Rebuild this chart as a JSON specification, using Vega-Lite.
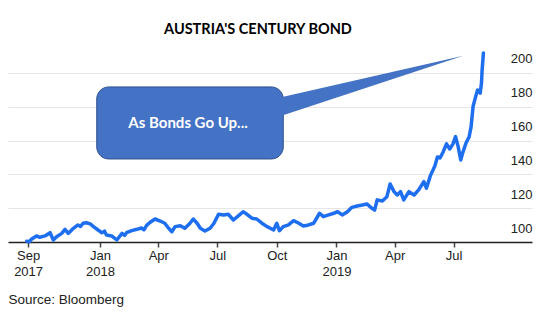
{
  "$schema": "https://vega.github.io/schema/vega-lite/v6.json",
  "width": 524,
  "height": 197,
  "autosize": {"type": "none"},
  "padding": {"left": 8, "top": 45, "right": 18, "bottom": 73},
  "background": "white",
  "title": {"text": "AUSTRIA'S CENTURY BOND", "font": "Lato", "fontSize": 14.5, "fontWeight": "bold", "color": "#000000", "anchor": "middle", "dx": -12, "offset": -3, "baseline": "alphabetic"},
  "config": {"view": {"stroke": null}},
  "datasets": {
    "price": [
      {"date": "2017-09-10", "value": 100.5},
      {"date": "2017-09-14", "value": 100.2},
      {"date": "2017-09-17", "value": 101.6},
      {"date": "2017-09-25", "value": 103.6},
      {"date": "2017-09-30", "value": 102.8},
      {"date": "2017-10-08", "value": 103.6},
      {"date": "2017-10-16", "value": 105.5},
      {"date": "2017-10-21", "value": 101.2},
      {"date": "2017-10-26", "value": 103.1},
      {"date": "2017-11-03", "value": 105.1},
      {"date": "2017-11-08", "value": 107.5},
      {"date": "2017-11-13", "value": 105.1},
      {"date": "2017-11-21", "value": 108.1},
      {"date": "2017-11-28", "value": 110.1},
      {"date": "2017-12-02", "value": 109.2},
      {"date": "2017-12-06", "value": 111.1},
      {"date": "2017-12-11", "value": 111.4},
      {"date": "2017-12-17", "value": 110.7},
      {"date": "2017-12-22", "value": 109.1},
      {"date": "2017-12-29", "value": 107.1},
      {"date": "2018-01-04", "value": 105.5},
      {"date": "2018-01-08", "value": 106.4},
      {"date": "2018-01-11", "value": 104.1},
      {"date": "2018-01-19", "value": 103.6},
      {"date": "2018-01-27", "value": 101.2},
      {"date": "2018-02-04", "value": 105.1},
      {"date": "2018-02-08", "value": 103.9},
      {"date": "2018-02-11", "value": 105.5},
      {"date": "2018-02-19", "value": 106.7},
      {"date": "2018-02-27", "value": 107.5},
      {"date": "2018-03-06", "value": 108.3},
      {"date": "2018-03-10", "value": 107.2},
      {"date": "2018-03-14", "value": 109.8},
      {"date": "2018-03-19", "value": 111.5},
      {"date": "2018-03-27", "value": 113.6},
      {"date": "2018-04-04", "value": 112.4},
      {"date": "2018-04-11", "value": 111.1},
      {"date": "2018-04-17", "value": 108.1},
      {"date": "2018-04-22", "value": 106.1},
      {"date": "2018-04-27", "value": 109.1},
      {"date": "2018-05-05", "value": 109.6},
      {"date": "2018-05-12", "value": 108.1},
      {"date": "2018-05-20", "value": 111.1},
      {"date": "2018-05-25", "value": 113.6},
      {"date": "2018-05-31", "value": 111.1},
      {"date": "2018-06-05", "value": 108.1},
      {"date": "2018-06-12", "value": 106.5},
      {"date": "2018-06-20", "value": 108.1},
      {"date": "2018-06-26", "value": 111.1},
      {"date": "2018-07-03", "value": 116.4},
      {"date": "2018-07-11", "value": 116.0},
      {"date": "2018-07-18", "value": 116.4},
      {"date": "2018-07-26", "value": 113.0},
      {"date": "2018-08-03", "value": 115.6},
      {"date": "2018-08-10", "value": 117.9},
      {"date": "2018-08-16", "value": 116.4},
      {"date": "2018-08-24", "value": 114.0},
      {"date": "2018-08-31", "value": 113.6},
      {"date": "2018-09-08", "value": 111.1},
      {"date": "2018-09-16", "value": 109.1},
      {"date": "2018-09-21", "value": 108.1},
      {"date": "2018-09-26", "value": 107.1},
      {"date": "2018-10-01", "value": 111.1},
      {"date": "2018-10-05", "value": 106.7},
      {"date": "2018-10-11", "value": 109.1},
      {"date": "2018-10-19", "value": 110.1},
      {"date": "2018-10-27", "value": 112.6},
      {"date": "2018-11-04", "value": 111.1},
      {"date": "2018-11-11", "value": 109.5},
      {"date": "2018-11-19", "value": 110.1},
      {"date": "2018-11-27", "value": 111.1},
      {"date": "2018-12-06", "value": 117.0},
      {"date": "2018-12-12", "value": 115.0},
      {"date": "2018-12-20", "value": 116.0},
      {"date": "2018-12-28", "value": 117.0},
      {"date": "2019-01-03", "value": 117.9},
      {"date": "2019-01-10", "value": 116.0},
      {"date": "2019-01-18", "value": 117.9},
      {"date": "2019-01-25", "value": 120.5},
      {"date": "2019-02-02", "value": 121.3},
      {"date": "2019-02-10", "value": 121.9},
      {"date": "2019-02-17", "value": 122.5},
      {"date": "2019-02-25", "value": 119.9},
      {"date": "2019-03-01", "value": 118.9},
      {"date": "2019-03-05", "value": 124.9},
      {"date": "2019-03-13", "value": 124.3},
      {"date": "2019-03-20", "value": 126.8},
      {"date": "2019-03-25", "value": 134.3},
      {"date": "2019-03-31", "value": 129.8},
      {"date": "2019-04-05", "value": 127.8},
      {"date": "2019-04-10", "value": 129.8},
      {"date": "2019-04-15", "value": 124.9},
      {"date": "2019-04-23", "value": 129.8},
      {"date": "2019-05-01", "value": 127.8},
      {"date": "2019-05-08", "value": 130.8},
      {"date": "2019-05-16", "value": 135.7},
      {"date": "2019-05-20", "value": 131.8},
      {"date": "2019-05-26", "value": 139.1},
      {"date": "2019-06-02", "value": 145.0},
      {"date": "2019-06-06", "value": 150.3},
      {"date": "2019-06-10", "value": 149.7},
      {"date": "2019-06-15", "value": 153.4},
      {"date": "2019-06-20", "value": 158.0},
      {"date": "2019-06-25", "value": 155.0},
      {"date": "2019-06-30", "value": 158.0},
      {"date": "2019-07-04", "value": 162.3},
      {"date": "2019-07-08", "value": 156.4},
      {"date": "2019-07-12", "value": 148.5},
      {"date": "2019-07-15", "value": 152.7},
      {"date": "2019-07-20", "value": 158.4},
      {"date": "2019-07-25", "value": 162.3},
      {"date": "2019-07-28", "value": 168.2},
      {"date": "2019-07-31", "value": 180.1},
      {"date": "2019-08-04", "value": 186.0},
      {"date": "2019-08-07", "value": 189.9},
      {"date": "2019-08-11", "value": 188.0},
      {"date": "2019-08-13", "value": 193.9},
      {"date": "2019-08-14", "value": 201.8},
      {"date": "2019-08-16", "value": 211.8}
    ],
    "box": [
      {"date": "2017-12-27", "date2": "2018-10-11", "value": 191.7, "value2": 149.1}
    ],
    "pointer": [
      {"date": "2018-10-06", "value": 185.4, "value2": 174.4},
      {"date": "2019-07-16", "value": 210.1, "value2": 210.1}
    ],
    "label": [
      {"date": "2018-05-17", "value": 170.4, "text": "As Bonds Go Up..."}
    ]
  },
  "encoding": {
    "x": {
      "field": "date",
      "type": "temporal",
      "scale": {"domain": [{"year": 2017, "month": 8, "date": 12}, {"year": 2019, "month": 10, "date": 30}]},
      "axis": {
        "values": [
          {"year": 2017, "month": 9, "date": 12},
          {"year": 2018, "month": 1, "date": 1},
          {"year": 2018, "month": 4, "date": 1},
          {"year": 2018, "month": 7, "date": 1},
          {"year": 2018, "month": 10, "date": 1},
          {"year": 2019, "month": 1, "date": 1},
          {"year": 2019, "month": 4, "date": 1},
          {"year": 2019, "month": 7, "date": 1}
        ],
        "labelExpr": "[timeFormat(datum.value, '%b'), (month(datum.value) == 0 || year(datum.value) == 2017) ? timeFormat(datum.value, '%Y') : '']",
        "domain": true,
        "domainColor": "#222222",
        "domainWidth": 1.5,
        "ticks": true,
        "tickColor": "#444444",
        "tickSize": 5,
        "tickWidth": 1.5,
        "grid": false,
        "labelFont": "Liberation Sans",
        "labelFontSize": 13,
        "labelColor": "#222222",
        "labelPadding": 2,
        "labelLineHeight": 16,
        "labelBaseline": "top",
        "labelAlign": "center",
        "labelFlush": false,
        "labelOverlap": false,
        "title": "Source: Bloomberg",
        "titleFont": "Liberation Sans",
        "titleFontSize": 13.5,
        "titleFontWeight": "normal",
        "titleColor": "#222222",
        "titleAnchor": "start",
        "titleAlign": "left",
        "titleX": 0,
        "titleY": 57,
        "titleBaseline": "middle"
      }
    },
    "y": {
      "field": "value",
      "type": "quantitative",
      "scale": {"domain": [100, 216.5], "nice": false, "zero": false},
      "axis": {
        "orient": "right",
        "values": [100, 120, 140, 160, 180, 200],
        "grid": true,
        "gridColor": "#e6e6e6",
        "gridWidth": 1,
        "domain": false,
        "ticks": false,
        "tickSize": 0,
        "labelPadding": 0,
        "labelAlign": "right",
        "labelBaseline": "middle",
        "labelOffset": -14,
        "labelFont": "Liberation Sans",
        "labelFontSize": 13,
        "labelColor": "#222222",
        "title": null
      }
    }
  },
  "layer": [
    {
      "data": {"name": "price"},
      "mark": {"type": "line", "color": "#1e6ff0", "strokeWidth": 3.5, "strokeJoin": "round", "strokeCap": "round"}
    },
    {
      "data": {"name": "box"},
      "mark": {"type": "rect", "cornerRadius": 12, "fill": "#4472c4", "stroke": "#2f528f", "strokeWidth": 1},
      "encoding": {"x2": {"field": "date2"}, "y2": {"field": "value2"}}
    },
    {
      "data": {"name": "pointer"},
      "mark": {"type": "area", "fill": "#4472c4", "opacity": 1},
      "encoding": {"y2": {"field": "value2"}}
    },
    {
      "data": {"name": "label"},
      "mark": {"type": "text", "font": "Lato", "fontSize": 15, "fontWeight": "bold", "color": "white", "align": "center", "baseline": "middle"},
      "encoding": {"text": {"field": "text"}}
    }
  ]
}
